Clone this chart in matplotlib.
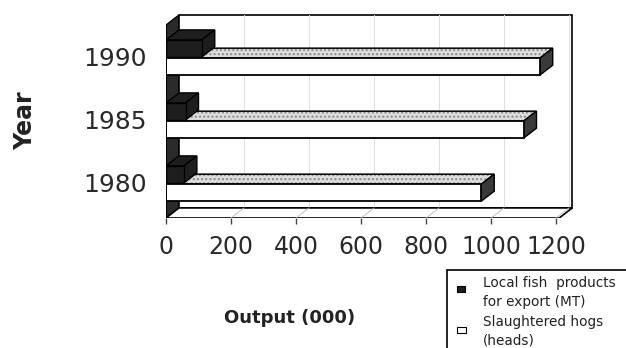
import matplotlib
matplotlib.use('Agg')
import matplotlib.pyplot as plt
from matplotlib.patches import Polygon, Rectangle

# ---- data ----
years = ['1980', '1985', '1990']
fish_export = [55, 60, 110]          # Local fish products for export (MT, 000)
hogs_slaughtered = [970, 1100, 1150]  # Slaughtered hogs (heads, 000)
x_ticks = [0, 200, 400, 600, 800, 1000, 1200]
series_names = ['Local fish  products\nfor export (MT)', 'Slaughtered hogs\n(heads)']
x_label = 'Output (000)'
y_label = 'Year'

W, H = 626, 348
fig = plt.figure(figsize=(W / 100, H / 100), dpi=100)
fig.patch.set_facecolor('white')


def px(x0, y0, x1, y1):
    return [x0 / W, 1 - y1 / H, (x1 - x0) / W, (y1 - y0) / H]


ax = fig.add_axes(px(166, 10, 580, 218))
ax.set_xlim(0, (580 - 166) / 0.325)
y_floor = -0.556
ax.set_ylim(y_floor, 2 + (57 - 10) / 63)
for s in ax.spines.values():
    s.set_visible(False)

DX, DY = 40, 0.16
WALL_R = 1210
WALL_TOP = 2.667
pos = list(range(len(years)))

# left wall
ax.add_patch(Polygon([(0, y_floor), (0, WALL_TOP - DY), (DX, WALL_TOP), (DX, y_floor + DY)],
                     closed=True, facecolor='#2a2a2a', edgecolor='black', lw=1, zorder=1))
# back wall
ax.add_patch(Polygon([(DX, y_floor + DY), (DX, WALL_TOP), (WALL_R + DX, WALL_TOP), (WALL_R + DX, y_floor + DY)],
                     closed=True, facecolor='white', edgecolor='black', lw=1.2, zorder=1))
# gridlines on back wall and floor
for v in x_ticks[1:]:
    ax.plot([v + DX, v + DX], [y_floor + DY, WALL_TOP], color='#dddddd', lw=0.7, zorder=1.2)
    ax.plot([v, v + DX], [y_floor, y_floor + DY], color='#b8b8b8', lw=0.6, zorder=1.6)
# floor
ax.add_patch(Polygon([(0, y_floor), (WALL_R, y_floor), (WALL_R + DX, y_floor + DY), (DX, y_floor + DY)],
                     closed=True, facecolor='white', edgecolor='black', lw=1.2, zorder=1.5))

hog_lo, hog_hi = -0.29, -0.02
fish_lo, fish_hi = 0.0, 0.27

for i, (f, h) in enumerate(zip(fish_export, hogs_slaughtered)):
    c = pos[i]
    # hog top face (hatched light gray)
    top = c + hog_hi
    ax.add_patch(Polygon([(0, top), (h, top), (h + DX, top + DY), (DX, top + DY)], closed=True,
                         facecolor='#dcdcdc', edgecolor='#8a8a8a', hatch='....', lw=0, zorder=3))
    ax.add_patch(Polygon([(0, top), (h, top), (h + DX, top + DY), (DX, top + DY)], closed=True,
                         facecolor='none', edgecolor='black', lw=1.1, zorder=3.1))
    # hog side face
    ax.add_patch(Polygon([(h, c + hog_lo), (h, top), (h + DX, top + DY), (h + DX, c + hog_lo + DY)],
                         closed=True, facecolor='#3a3a3a', edgecolor='black', lw=1, zorder=3.2))
    # fish bar: top and side faces
    ftop = c + fish_hi
    ax.add_patch(Polygon([(0, ftop), (f, ftop), (f + DX, ftop + DY), (DX, ftop + DY)], closed=True,
                         facecolor='#1e1e1e', edgecolor='black', lw=1, zorder=4))
    ax.add_patch(Polygon([(f, c + fish_lo), (f, ftop), (f + DX, ftop + DY), (f + DX, c + fish_lo + DY)],
                         closed=True, facecolor='#1e1e1e', edgecolor='black', lw=1, zorder=4))

# front faces via barh
ax.barh([p + (fish_lo + fish_hi) / 2 for p in pos], fish_export, height=fish_hi - fish_lo,
        color='#1e1e1e', edgecolor='black', lw=1, zorder=5)
ax.barh([p + (hog_lo + hog_hi) / 2 for p in pos], hogs_slaughtered, height=hog_hi - hog_lo,
        color='white', edgecolor='black', lw=1.3, zorder=5)

# front-left edge
ax.plot([0, 0], [y_floor, WALL_TOP - DY], color='black', lw=1.2, zorder=6)

ax.set_xticks(x_ticks)
ax.set_xticklabels([str(v) for v in x_ticks], fontsize=17, family='DejaVu Sans', color='#2a2a2a')
ax.tick_params(axis='x', length=4, width=1, pad=8, color='#444444')
ax.set_yticks(pos)
ax.set_yticklabels(years, fontsize=18, family='DejaVu Sans', color='#2a2a2a')
ax.tick_params(axis='y', length=0, pad=14)

fig.text(25 / W, 1 - 121 / H, y_label, rotation=90, fontsize=17, fontweight='bold',
         family='DejaVu Sans', ha='center', va='center', color='#222222')
fig.text(290 / W, 1 - 318 / H, x_label, fontsize=13, fontweight='bold',
         family='DejaVu Sans', ha='center', va='center', color='#222222')

# legend
fig.patches.append(Rectangle((447 / W, 1 - 380 / H), 200 / W, 110 / H, transform=fig.transFigure,
                             facecolor='white', edgecolor='black', lw=1.2, figure=fig))
fig.patches.append(Rectangle((457 / W, 1 - 292 / H), 8 / W, 6 / H, transform=fig.transFigure,
                             facecolor='#1e1e1e', edgecolor='black', lw=0.8, figure=fig))
fig.patches.append(Rectangle((457 / W, 1 - 333 / H), 9 / W, 6 / H, transform=fig.transFigure,
                             facecolor='white', edgecolor='black', lw=0.8, figure=fig))
legend_lines = series_names[0].split('\n') + series_names[1].split('\n')
for txt, yy in zip(legend_lines, [283, 302, 322, 341]):
    fig.text(483 / W, 1 - yy / H, txt, fontsize=9.8, family='DejaVu Sans',
             ha='left', va='center', color='#222222')

fig.savefig('out.png', dpi=100)
